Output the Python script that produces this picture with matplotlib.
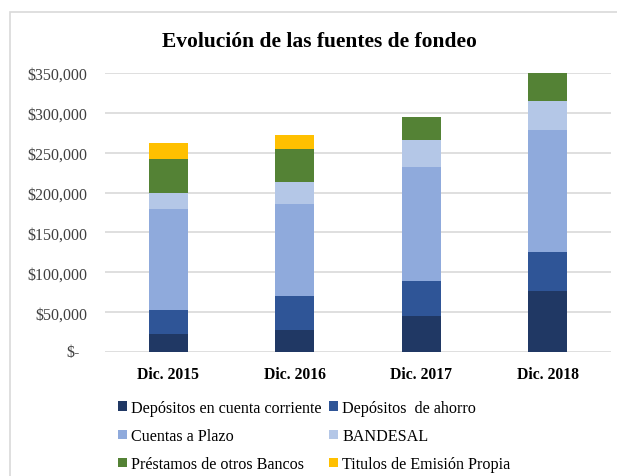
import numpy as np
import matplotlib
matplotlib.use("Agg")
import matplotlib.pyplot as plt
from matplotlib.patches import Rectangle

plt.rcParams['font.family'] = ['Liberation Serif', 'DejaVu Serif']

# data
years = ["Dic. 2015", "Dic. 2016", "Dic. 2017", "Dic. 2018"]
corriente = [22000, 27300, 45400, 77000]
ahorro = [31000, 43300, 43400, 48400]
plazo = [126000, 114700, 143700, 153700]
bandesal = [20000, 27800, 33700, 35400]
prestamos = [42500, 41300, 29100, 35500]
titulos = [20400, 17500, 0, 0]

series = [corriente, ahorro, plazo, bandesal, prestamos, titulos]
names = ["Depósitos en cuenta corriente", "Depósitos  de ahorro",
         "Cuentas a Plazo", "BANDESAL",
         "Préstamos de otros Bancos", "Titulos de Emisión Propia"]
colors = ["#203864", "#2F5597", "#8FAADC", "#B4C7E7", "#548235", "#FFC000"]

fig = plt.figure(figsize=(6.17, 4.77), dpi=100)
ax = fig.add_axes([105/617, 1-353/477, 506/617, 279/477])

x = np.arange(len(years))
bottom = np.zeros(len(years))
handles = []
for vals, name, col in zip(series, names, colors):
    h = ax.bar(x, vals, width=0.31, bottom=bottom, color=col, label=name, zorder=3)
    handles.append(h)
    bottom += np.array(vals)

ax.set_xlim(-0.5, 3.5)
ax.set_ylim(0, 350000)
ticks = np.arange(0, 350001, 50000)
ax.set_yticks(ticks)
ax.set_yticklabels([""] + [f"${t:,.0f}" for t in ticks[1:]], fontsize=11.5, color="#404040")
# Excel accounting format: zero shown as "$-" with room after the dash
ax.text(-25/506, 0, "$-", transform=ax.get_yaxis_transform(), ha="right", va="center",
        fontsize=11.5, color="#404040")
ax.set_xticks(x)
ax.set_xticklabels(years, fontsize=11.3, fontweight="bold")
ax.tick_params(length=0)
ax.tick_params(axis="y", pad=13)
ax.tick_params(axis="x", pad=10)
ax.grid(axis="y", color="#D9D9D9", linewidth=1.2, zorder=0)
for s in ax.spines.values():
    s.set_visible(False)

fig.text(0.518, 1-42/477, "Evolución de las fuentes de fondeo", ha="center", va="center",
         fontsize=15.5, fontweight="bold")

# order handles row-wise for a 2-column legend
order = [0, 2, 4, 1, 3, 5]
leg = fig.legend([handles[i] for i in order], [names[i] for i in order], ncol=2,
                 loc="upper left", bbox_to_anchor=(118/617, 1-401/477), frameon=False,
                 fontsize=11.6, handlelength=0.55, handleheight=0.55, handletextpad=0.25,
                 columnspacing=0.5, labelspacing=0.75, borderpad=0, borderaxespad=0)

# outer chart frame
fig.patches.append(Rectangle((10/617, -0.1), 1.0, 1-13/477+0.1, transform=fig.transFigure,
                             fill=False, edgecolor="#D9D9D9", linewidth=1.2))

fig.savefig("out.png", dpi=100)
